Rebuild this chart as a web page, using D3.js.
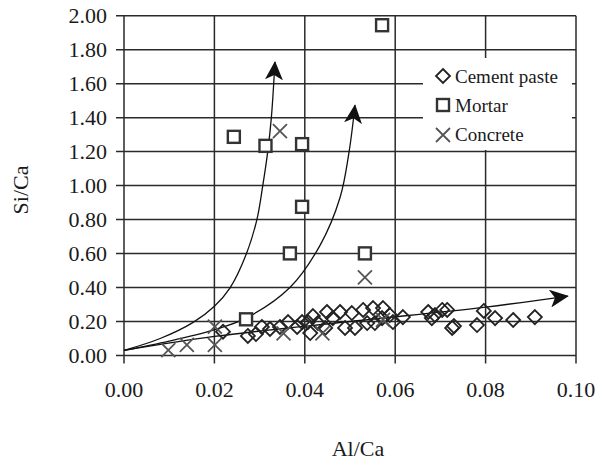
<!DOCTYPE html>
<html>
<head>
<meta charset="utf-8">
<script src="https://cdn.jsdelivr.net/npm/d3@7"></script>
<style>
  body { margin: 0; background: #fff; }
  text { font-family: "Liberation Serif", "Times New Roman", serif; fill: #1a1a1a; }
</style>
</head>
<body>
<svg id="chart" width="599" height="461"></svg>
<script>
const xTicks = [0, 0.02, 0.04, 0.06, 0.08, 0.1];
const yTicks = [0, 0.2, 0.4, 0.6, 0.8, 1.0, 1.2, 1.4, 1.6, 1.8, 2.0];

// Cement paste (diamonds)
const pasteAl = [0.0219, 0.0274, 0.0292, 0.0305, 0.0323, 0.0345, 0.0363, 0.0383, 0.0394, 0.0407,
  0.0412, 0.0418, 0.0429, 0.0445, 0.0449, 0.0462, 0.0478, 0.0489, 0.0504, 0.0511,
  0.0529, 0.0538, 0.0551, 0.0555, 0.0571, 0.0573, 0.0588, 0.0595, 0.0617, 0.0673,
  0.0681, 0.0688, 0.0704, 0.0715, 0.0726, 0.0730, 0.0781, 0.0796, 0.0821, 0.0861, 0.0909];
const pasteSi = [0.14, 0.115, 0.126, 0.168, 0.156, 0.168, 0.197, 0.168, 0.197, 0.197,
  0.132, 0.232, 0.191, 0.162, 0.256, 0.22, 0.256, 0.162, 0.25, 0.162,
  0.268, 0.191, 0.279, 0.191, 0.22, 0.279, 0.238, 0.197, 0.226, 0.256,
  0.22, 0.238, 0.268, 0.268, 0.162, 0.173, 0.179, 0.262, 0.22, 0.209, 0.226];

// Mortar (squares)
const mortarAl = [0.0243, 0.0313, 0.0394, 0.0571, 0.0394, 0.0367, 0.0533, 0.027];
const mortarSi = [1.287, 1.234, 1.244, 1.944, 0.875, 0.601, 0.601, 0.213];

// Concrete (crosses)
const concreteAl = [0.0345, 0.0533, 0.0098, 0.0139, 0.0201, 0.0201, 0.0353, 0.0439, 0.0573];
const concreteSi = [1.32, 0.46, 0.032, 0.062, 0.062, 0.17, 0.13, 0.13, 0.21];

// trend arrows (Al/Ca, Si/Ca)
const arrowSteep = [[0, 0.03], [0.008, 0.1], [0.0153, 0.195], [0.02, 0.29], [0.0235, 0.4],
  [0.0271, 0.6], [0.0294, 0.8], [0.0307, 1.0], [0.0318, 1.2], [0.0326, 1.4], [0.0334, 1.728]];
const arrowMid = [[0, 0.03], [0.01, 0.085], [0.0197, 0.15], [0.027, 0.22], [0.0367, 0.4],
  [0.0434, 0.65], [0.0478, 0.93], [0.0498, 1.2], [0.0511, 1.473]];
const arrowFlat = [[0, 0.03], [0.02, 0.112], [0.05, 0.2], [0.08, 0.285], [0.0982, 0.35]];

const svg = d3.select('#chart');
const x = d3.scaleLinear().domain([0, 0.1]).range([124, 576]);
const y = d3.scaleLinear().domain([0, 2]).range([355.5, 15.7]);

const grid = svg.append('g').attr('stroke', '#2a2a2a').attr('stroke-width', 1.5);
grid.selectAll('.hg').data(yTicks).enter().append('line')
  .attr('x1', x(0) - 8).attr('x2', x(0.1))
  .attr('y1', (d) => y(d)).attr('y2', (d) => y(d));
grid.selectAll('.vg').data(xTicks).enter().append('line')
  .attr('x1', (d) => x(d)).attr('x2', (d) => x(d))
  .attr('y1', y(2)).attr('y2', y(0) + 8);

// legend background covers the grid
svg.append('rect').attr('x', 423).attr('y', 58).attr('width', 149).attr('height', 92).attr('fill', '#fff');

// tick labels
svg.append('g').selectAll('text').data(yTicks).enter().append('text')
  .attr('x', 107).attr('y', (d) => y(d)).attr('dy', '0.35em')
  .attr('text-anchor', 'end').attr('font-size', 22)
  .text((d) => d3.format('.2f')(d));
svg.append('g').selectAll('text').data(xTicks).enter().append('text')
  .attr('x', (d) => x(d)).attr('y', 397)
  .attr('text-anchor', 'middle').attr('font-size', 22)
  .text((d) => d3.format('.2f')(d));

svg.append('text').attr('transform', 'translate(28,190) rotate(-90)')
  .attr('text-anchor', 'middle').attr('font-size', 22).text('Si/Ca');
svg.append('text').attr('x', 358).attr('y', 456)
  .attr('text-anchor', 'middle').attr('font-size', 22).text('Al/Ca');

// arrow heads
svg.append('defs').append('marker')
  .attr('id', 'head').attr('viewBox', '0 -9 19 18')
  .attr('refX', 18).attr('refY', 0)
  .attr('markerWidth', 19).attr('markerHeight', 18)
  .attr('markerUnits', 'userSpaceOnUse').attr('orient', 'auto')
  .append('path').attr('d', 'M0,-9L19,0L0,9L5,0Z').attr('fill', '#111');

const line = d3.line().x((d) => x(d[0])).y((d) => y(d[1])).curve(d3.curveCatmullRom.alpha(0.5));
svg.append('g').selectAll('path').data([arrowSteep, arrowMid, arrowFlat]).enter().append('path')
  .attr('d', line).attr('fill', 'none').attr('stroke', '#111').attr('stroke-width', 1.3)
  .attr('marker-end', 'url(#head)');

const diamond = 'M0,-7L7,0L0,7L-7,0Z';

svg.append('g').selectAll('path').data(pasteAl).enter().append('path')
  .attr('d', diamond)
  .attr('transform', (d, i) => `translate(${x(d)},${y(pasteSi[i])})`)
  .attr('fill', 'none').attr('stroke', '#222').attr('stroke-width', 1.8);

svg.append('g').selectAll('rect').data(mortarAl).enter().append('rect')
  .attr('x', (d) => x(d) - 6).attr('y', (d, i) => y(mortarSi[i]) - 6)
  .attr('width', 12).attr('height', 12)
  .attr('fill', '#fff').attr('stroke', '#333').attr('stroke-width', 2.4);

const cross = 'M-7,-7L7,7M-7,7L7,-7';
svg.append('g').selectAll('path').data(concreteAl).enter().append('path')
  .attr('d', cross)
  .attr('transform', (d, i) => `translate(${x(d)},${y(concreteSi[i])})`)
  .attr('fill', 'none').attr('stroke', '#555').attr('stroke-width', 1.8);

// legend
const legendItems = ['Cement paste', 'Mortar', 'Concrete'];
const lg = svg.append('g');
lg.append('path').attr('d', diamond).attr('transform', 'translate(443,76)')
  .attr('fill', 'none').attr('stroke', '#222').attr('stroke-width', 1.8);
lg.append('rect').attr('x', 437).attr('y', 99).attr('width', 12).attr('height', 12)
  .attr('fill', '#fff').attr('stroke', '#333').attr('stroke-width', 2.4);
lg.append('path').attr('d', cross).attr('transform', 'translate(443,135)')
  .attr('fill', 'none').attr('stroke', '#555').attr('stroke-width', 1.8);
lg.selectAll('text').data(legendItems).enter().append('text')
  .attr('x', 455).attr('y', (d, i) => 83 + i * 29)
  .attr('font-size', 19).text((d) => d);
</script>
</body>
</html>
